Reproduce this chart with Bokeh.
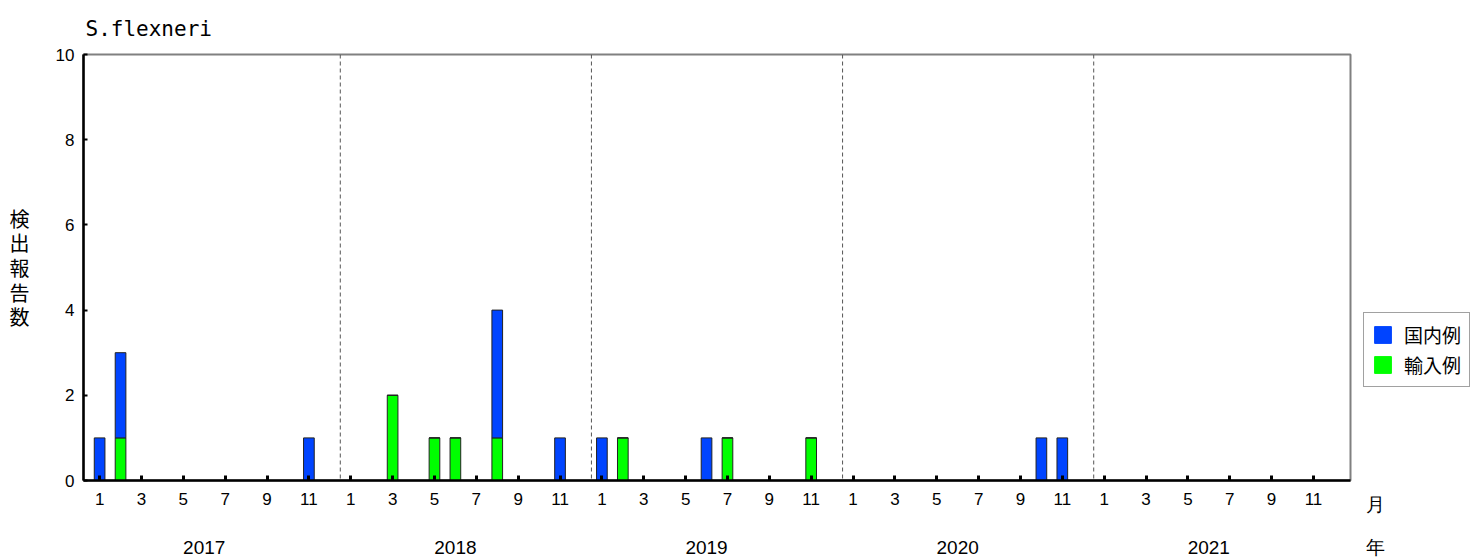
from bokeh.plotting import figure
from bokeh.layouts import row
from bokeh.models import (Range1d, FixedTicker, LinearAxis, Span, Legend, LegendItem,
                          ColumnDataSource)
from bokeh.embed import file_html
from bokeh.resources import INLINE

years = ["2017", "2018", "2019", "2020", "2021"]
month_labels = ["1", "3", "5", "7", "9", "11"]

domestic_2017 = [1, 2, 0, 0, 0, 0, 0, 0, 0, 0, 1, 0]
domestic_2018 = [0, 0, 0, 0, 0, 0, 0, 3, 0, 0, 1, 0]
domestic_2019 = [1, 0, 0, 0, 0, 1, 0, 0, 0, 0, 0, 0]
domestic_2020 = [0, 0, 0, 0, 0, 0, 0, 0, 0, 1, 1, 0]
domestic_2021 = [0, 0, 0, 0, 0, 0, 0, 0, 0, 0, 0, 0]

imported_2017 = [0, 1, 0, 0, 0, 0, 0, 0, 0, 0, 0, 0]
imported_2018 = [0, 0, 2, 0, 1, 1, 0, 1, 0, 0, 0, 0]
imported_2019 = [0, 1, 0, 0, 0, 0, 1, 0, 0, 0, 1, 0]
imported_2020 = [0, 0, 0, 0, 0, 0, 0, 0, 0, 0, 0, 0]
imported_2021 = [0, 0, 0, 0, 0, 0, 0, 0, 0, 0, 0, 0]

series_names = ["国内例", "輸入例"]

domestic = domestic_2017 + domestic_2018 + domestic_2019 + domestic_2020 + domestic_2021
imported = imported_2017 + imported_2018 + imported_2019 + imported_2020 + imported_2021
idx = list(range(len(domestic)))

src = ColumnDataSource(dict(x=idx, imp=imported, dom=domestic))

BLUE = "#0044FF"
GREEN = "#00FF00"
SANS = "Liberation Sans"
CJK = "Noto Sans CJK JP"

p = figure(width=1352, height=560, output_backend="svg", toolbar_location=None,
           x_range=Range1d(-0.77, 59.77), y_range=Range1d(0, 10),
           min_border_left=83, min_border_right=2, min_border_top=54, min_border_bottom=80,
           x_axis_type=None)
p.xgrid.visible = False
p.ygrid.visible = False
p.outline_line_color = "#808080"
p.outline_line_width = 2

p.title.text = "S.flexneri"
p.title.text_font = "DejaVu Sans Mono"
p.title.text_font_size = "21px"
p.title.text_font_style = "normal"
p.title.text_color = "black"
p.title.align = "left"
p.title.vertical_align = "top"
p.title.offset = 2
p.title.standoff = 24

rs = p.vbar_stack(["imp", "dom"], x="x", width=0.51, source=src,
                  fill_color=[GREEN, BLUE], line_color="#222222", line_width=1)

# year separators
for k in range(1, 5):
    p.add_layout(Span(location=12 * k - 0.5, dimension="height", line_color="#555555",
                      line_width=1, line_dash="4 3"))

# y axis
ya = p.yaxis[0]
ya.ticker = FixedTicker(ticks=[0, 2, 4, 6, 8, 10])
ya.minor_tick_line_color = None
ya.major_tick_in = 4
ya.major_tick_out = 0
ya.major_tick_line_width = 2
ya.axis_line_width = 2.5
ya.axis_line_color = "black"
ya.major_label_text_font = SANS
ya.major_label_text_font_size = "17px"
ya.major_label_text_color = "black"
ya.major_label_standoff = 9
ya.axis_label = "検\n出\n報\n告\n数"
ya.axis_label_orientation = "horizontal"
ya.axis_label_text_font = CJK
ya.axis_label_text_font_size = "20px"
ya.axis_label_text_font_style = "normal"
ya.axis_label_text_color = "black"
ya.axis_label_text_line_height = 0.85
ya.axis_label_standoff = 23

# month axis
mticks = list(range(0, 60, 2))
xa = LinearAxis(ticker=FixedTicker(ticks=mticks),
                major_label_overrides={t: month_labels[(t % 12) // 2] for t in mticks})
xa.minor_tick_line_color = None
xa.major_tick_in = 5
xa.major_tick_out = 0
xa.major_tick_line_width = 3
xa.axis_line_width = 2.5
xa.axis_line_color = "black"
xa.major_label_text_font = SANS
xa.major_label_text_font_size = "17px"
xa.major_label_text_color = "black"
xa.major_label_standoff = 12
p.add_layout(xa, "below")

# year axis
yticks = [5 + 12 * i for i in range(len(years))]
ya2 = LinearAxis(ticker=FixedTicker(ticks=yticks),
                 major_label_overrides={t: years[i] for i, t in enumerate(yticks)})
ya2.axis_line_color = None
ya2.major_tick_line_color = None
ya2.minor_tick_line_color = None
ya2.major_label_text_font = SANS
ya2.major_label_text_font_size = "19px"
ya2.major_label_text_color = "black"
ya2.major_label_standoff = 27
p.add_layout(ya2, "below")

# side panel: legend and unit labels (月 / 年)
side = figure(width=122, height=560, output_backend="svg", toolbar_location=None,
              x_range=Range1d(1000, 1122), y_range=Range1d(0, 10),
              min_border=0, x_axis_type=None, y_axis_type=None)
side.xgrid.visible = False
side.ygrid.visible = False
side.outline_line_color = None

# hidden legend proxies
r_dom = side.vbar(x="x", top="dom", width=0.51, source=src, fill_color=BLUE,
                  line_color=BLUE, visible=False)
r_imp = side.vbar(x="x", top="imp", width=0.51, source=src, fill_color=GREEN,
                  line_color=GREEN, visible=False)

legend = Legend(items=[LegendItem(label=series_names[0], renderers=[r_dom]),
                       LegendItem(label=series_names[1], renderers=[r_imp])],
                location=(11, 93), orientation="vertical",
                glyph_width=21, glyph_height=21, label_standoff=11,
                padding=8, spacing=3, margin=0, label_height=21,
                label_text_font=CJK, label_text_font_size="19px", label_text_color="black",
                border_line_color="#444444", border_line_width=1,
                background_fill_color="white", background_fill_alpha=1)
side.add_layout(legend, "center")

sa1 = LinearAxis(ticker=FixedTicker(ticks=[1023]), major_label_overrides={1023: "月"})
sa2 = LinearAxis(ticker=FixedTicker(ticks=[1023]), major_label_overrides={1023: "年"})
for a, so in ((sa1, 7), (sa2, 13)):
    a.axis_line_color = None
    a.major_tick_line_color = None
    a.minor_tick_line_color = None
    a.major_label_text_font = SANS
    a.major_label_text_font_size = "19px"
    a.major_label_text_color = "black"
    a.major_label_standoff = so
    side.add_layout(a, "below")

open("out.html", "w").write(file_html(row(p, side), INLINE))
